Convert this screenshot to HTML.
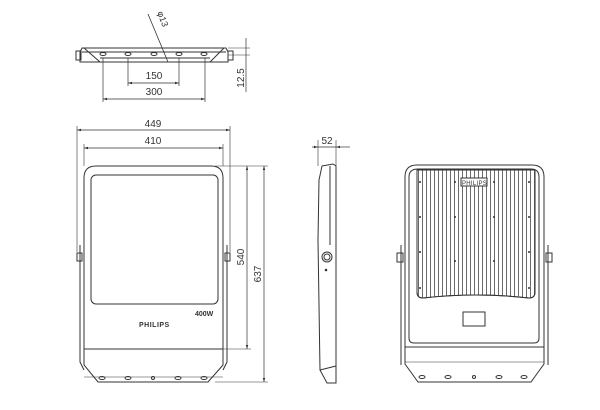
<!DOCTYPE html>
<html><head><style>
html,body{margin:0;padding:0;background:#fff;width:600px;height:410px;overflow:hidden}
svg{display:block}
text{font-family:"Liberation Sans",sans-serif;font-size:10px;fill:#333}
</style></head><body>
<svg width="600" height="410" viewBox="0 0 600 410" xmlns="http://www.w3.org/2000/svg">
<defs>
<marker id="a" viewBox="0 0 10 10" refX="10" refY="5" markerWidth="6" markerHeight="6" orient="auto-start-reverse"><path d="M0,2 L10,5 L0,8 z" fill="#333"/></marker>
<pattern id="fins" x="417" y="0" width="4" height="10" patternUnits="userSpaceOnUse"><line x1="1.5" y1="0" x2="1.5" y2="10" stroke="#444" stroke-width="0.8"/></pattern>
</defs>
<g fill="none" stroke="#333" stroke-width="1">
<!-- TOP VIEW -->
<path d="M82,48 L226,48 L228,52 L228,62 L80,62 L80,52 Z"/>
<line x1="82" y1="52" x2="226" y2="52"/>
<line x1="100" y1="58" x2="210" y2="58"/>
<line x1="84" y1="48" x2="100" y2="62"/><line x1="224" y1="48" x2="210" y2="62"/>
<rect x="76" y="51" width="5" height="9"/><rect x="228" y="51" width="5" height="9"/>
<ellipse cx="103" cy="54" rx="3" ry="1.5"/><ellipse cx="128" cy="54" rx="3" ry="1.5"/><ellipse cx="154" cy="54" rx="3" ry="1.5"/><ellipse cx="179" cy="54" rx="3" ry="1.5"/><ellipse cx="204" cy="54" rx="3" ry="1.5"/>
<line x1="148" y1="14" x2="168" y2="62" stroke-width="0.8"/>
<line x1="128" y1="58" x2="128" y2="86" stroke-width="0.7"/><line x1="179" y1="58" x2="179" y2="86" stroke-width="0.7"/>
<line x1="128" y1="83" x2="179" y2="83" stroke-width="0.7" marker-start="url(#a)" marker-end="url(#a)"/>
<line x1="103" y1="58" x2="103" y2="102" stroke-width="0.7"/><line x1="205" y1="58" x2="205" y2="102" stroke-width="0.7"/>
<line x1="103" y1="99" x2="205" y2="99" stroke-width="0.7" marker-start="url(#a)" marker-end="url(#a)"/>
<line x1="228" y1="48" x2="250" y2="48" stroke-width="0.6"/><line x1="228" y1="55" x2="250" y2="55" stroke-width="0.6"/>
<line x1="246" y1="38" x2="246" y2="92" stroke-width="0.7"/>

<!-- FRONT VIEW -->
<path d="M96,166 L211,166 Q223,166 223,178 L223,349 L84,349 L84,178 Q84,166 96,166 Z"/>
<rect x="91" y="175" width="127" height="129" rx="5"/>
<path d="M84,349 L84,365 L98,382 L208,382 L223,365 L223,349"/>
<line x1="84" y1="377" x2="223" y2="377" stroke-width="0.6"/>
<path d="M80,245 L80,362 L84,370 M227,245 L227,362 L223,370"/>
<rect x="77" y="253" width="5" height="8"/><rect x="225" y="253" width="5" height="8"/>
<ellipse cx="102" cy="378" rx="3" ry="1.5"/><ellipse cx="128" cy="378" rx="3" ry="1.5"/><circle cx="153" cy="378" r="1.5"/><ellipse cx="178" cy="378" rx="3" ry="1.5"/><ellipse cx="204" cy="378" rx="3" ry="1.5"/>
<line x1="77" y1="126" x2="77" y2="252" stroke-width="0.6"/><line x1="230" y1="126" x2="230" y2="252" stroke-width="0.6"/>
<line x1="77" y1="130" x2="230" y2="130" stroke-width="0.7" marker-start="url(#a)" marker-end="url(#a)"/>
<line x1="84" y1="144" x2="84" y2="166" stroke-width="0.6"/><line x1="223" y1="144" x2="223" y2="166" stroke-width="0.6"/>
<line x1="84" y1="148" x2="223" y2="148" stroke-width="0.7" marker-start="url(#a)" marker-end="url(#a)"/>
<line x1="215" y1="166" x2="268" y2="166" stroke-width="0.6"/><line x1="215" y1="349" x2="251" y2="349" stroke-width="0.6"/><line x1="215" y1="382" x2="268" y2="382" stroke-width="0.6"/>
<line x1="247" y1="166" x2="247" y2="349" stroke-width="0.7" marker-start="url(#a)" marker-end="url(#a)"/>
<line x1="264" y1="166" x2="264" y2="382" stroke-width="0.7" marker-start="url(#a)" marker-end="url(#a)"/>

<!-- SIDE VIEW -->
<path d="M322,166 L333,164 L336,166 L336,383 L327,383 L320,370 L318,240 L319,180 Z"/>
<line x1="330" y1="166" x2="330" y2="245"/>
<line x1="320" y1="370" x2="336" y2="366"/>
<circle cx="327" cy="257" r="5"/><circle cx="327" cy="257" r="3"/>
<circle cx="326" cy="270" r="0.8" fill="#333"/>
<line x1="318" y1="140" x2="318" y2="166" stroke-width="0.6"/><line x1="336" y1="140" x2="336" y2="166" stroke-width="0.6"/>
<line x1="312" y1="147" x2="318" y2="147" stroke-width="0.7" marker-end="url(#a)"/><line x1="350" y1="147" x2="336" y2="147" stroke-width="0.7" marker-end="url(#a)"/>
<line x1="318" y1="147" x2="336" y2="147" stroke-width="0.7"/>

<!-- BACK VIEW -->
<path d="M417,165 L532,165 Q544,165 544,177 L544,347 L405,347 L405,177 Q405,165 417,165 Z"/>
<path d="M418,169 L531,169 Q539,169 539,177 L539,338 Q539,343 534,343 L414,343 Q409,343 409,338 L409,177 Q409,169 418,169 Z"/>
<path d="M417,170 L535,170 L535,292 Q535,298 529,298 Q476,292 423,298 Q417,298 417,292 Z" fill="url(#fins)"/>
<path d="M417,170 L535,170 L535,292 Q535,298 529,298 Q476,292 423,298 Q417,298 417,292 Z"/>
<rect x="461" y="178" width="26" height="8" fill="#fff"/>
<rect x="463" y="312" width="22" height="14"/>
<path d="M405,347 L405,364 L418,382 L531,382 L544,364 L544,347"/>
<line x1="405" y1="362" x2="544" y2="362" stroke-width="0.6"/>
<path d="M401,245 L401,365 M548,245 L548,365"/>
<rect x="397" y="253" width="6" height="9"/><rect x="546" y="253" width="6" height="9"/>
<ellipse cx="422" cy="377" rx="3" ry="1.5"/><ellipse cx="448" cy="377" rx="3" ry="1.5"/><circle cx="474" cy="377" r="1.5"/><ellipse cx="499" cy="377" rx="3" ry="1.5"/><ellipse cx="524" cy="377" rx="3" ry="1.5"/>
</g>
<g fill="#333">
<circle cx="420" cy="182" r="1"/><circle cx="455" cy="182" r="1"/><circle cx="494" cy="182" r="1"/><circle cx="529" cy="182" r="1"/>
<circle cx="420" cy="217" r="1"/><circle cx="455" cy="217" r="1"/><circle cx="494" cy="217" r="1"/><circle cx="529" cy="217" r="1"/>
<circle cx="420" cy="252" r="1"/><circle cx="455" cy="261" r="1"/><circle cx="494" cy="261" r="1"/><circle cx="529" cy="252" r="1"/>
<circle cx="420" cy="288" r="1"/><circle cx="529" cy="288" r="1"/>
</g>
<text x="462" y="185" style="font-size:6px;letter-spacing:0.3px">PHILIPS</text>
<text x="154" y="79" text-anchor="middle">150</text>
<text x="154" y="95" text-anchor="middle">300</text>
<text transform="translate(160,20) rotate(70)" text-anchor="middle" style="font-size:9px">φ13</text>
<text transform="translate(244,78) rotate(-90)" text-anchor="middle">12.5</text>
<text x="153" y="127" text-anchor="middle">449</text>
<text x="153" y="144" text-anchor="middle">410</text>
<text transform="translate(244,257) rotate(-90)" text-anchor="middle">540</text>
<text transform="translate(261,274) rotate(-90)" text-anchor="middle">637</text>
<text x="327" y="144" text-anchor="middle">52</text>
<text x="195" y="316" style="font-size:7px;font-weight:bold">400W</text>
<text x="139" y="327" style="font-size:7px;font-weight:bold;letter-spacing:0.5px">PHILIPS</text>
</svg>
</body></html>
